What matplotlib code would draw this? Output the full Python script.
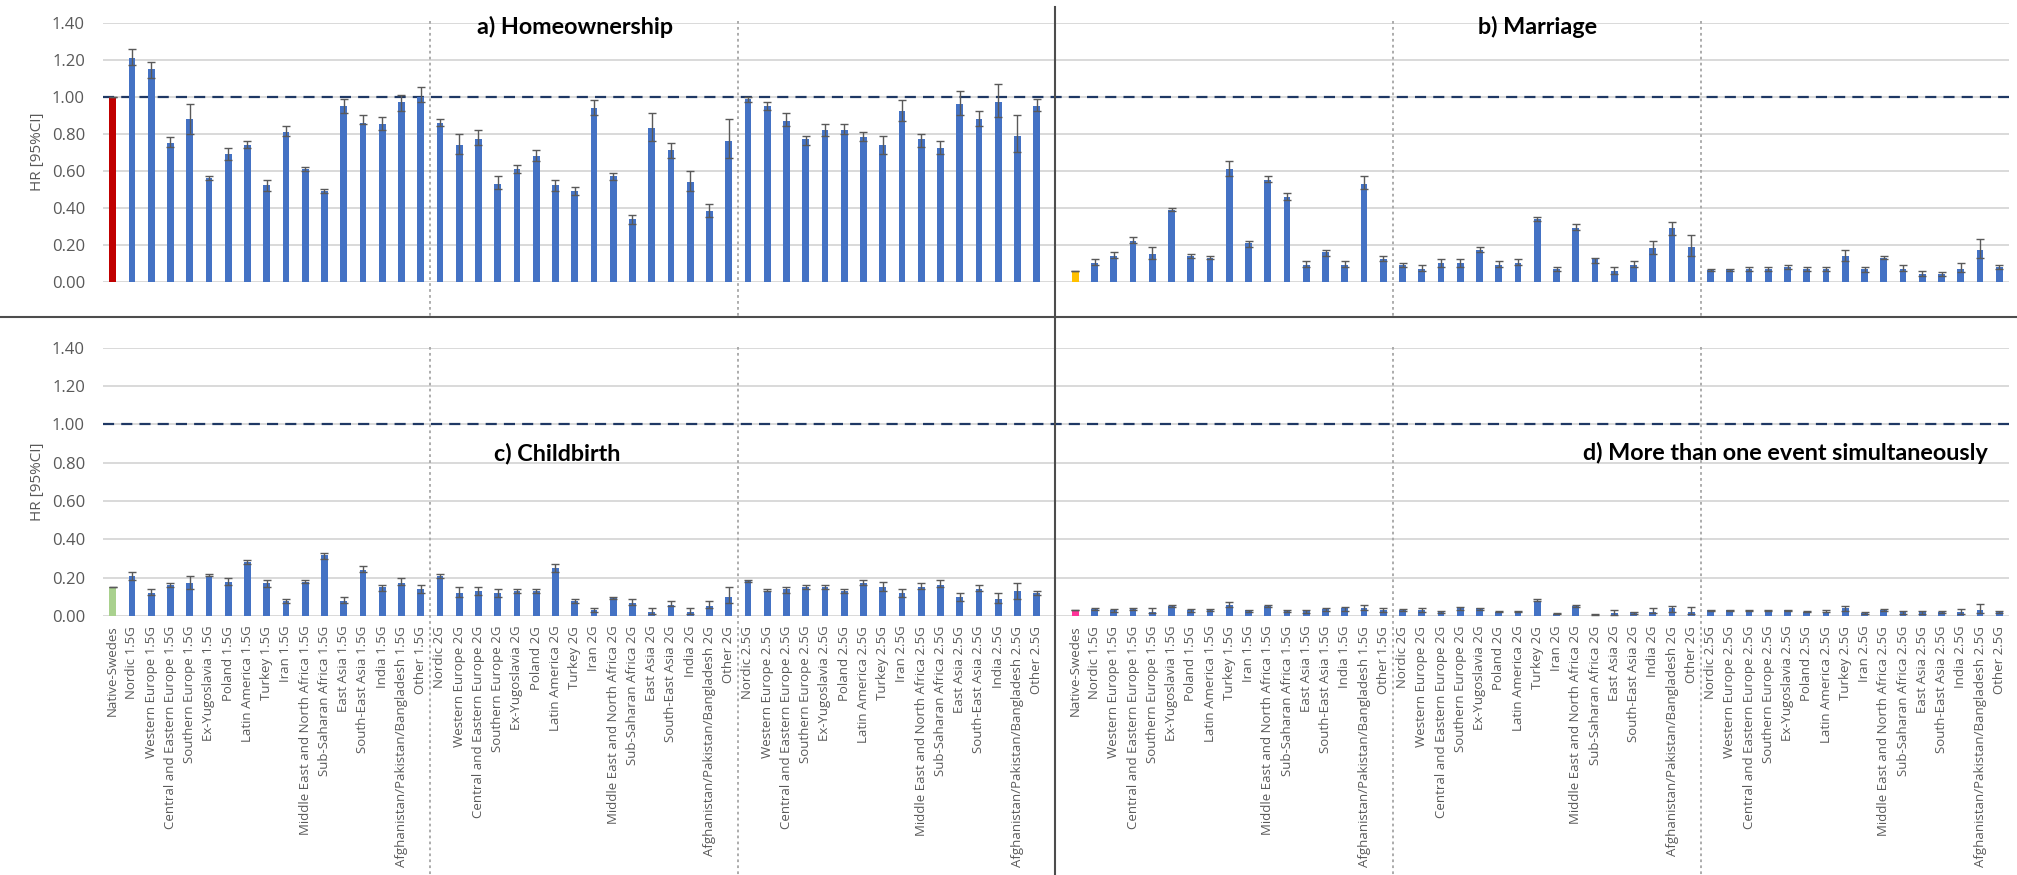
import numpy as np
import matplotlib.pyplot as plt
from matplotlib.lines import Line2D
from matplotlib.transforms import blended_transform_factory

regions = ["Nordic", "Western Europe", "Central and Eastern Europe", "Southern Europe",
           "Ex-Yugoslavia", "Poland", "Latin America", "Turkey", "Iran",
           "Middle East and North Africa", "Sub-Saharan Africa", "East Asia",
           "South-East Asia", "India", "Afghanistan/Pakistan/Bangladesh", "Other"]
generations = ["1.5G", "2G", "2.5G"]
labels = ["Native-Swedes"] + [f"{r} {g}" for g in generations for r in regions]

# hazard ratios with 95% CI, order: Native-Swedes, then 1.5G, 2G, 2.5G
home_hr = [1.00,
           1.21, 1.15, 0.75, 0.88, 0.56, 0.69, 0.74, 0.52, 0.81, 0.61, 0.49, 0.95, 0.86, 0.85, 0.97, 1.00,
           0.86, 0.74, 0.77, 0.53, 0.61, 0.68, 0.52, 0.49, 0.94, 0.57, 0.34, 0.83, 0.71, 0.54, 0.38, 0.76,
           0.99, 0.95, 0.87, 0.77, 0.82, 0.82, 0.78, 0.74, 0.92, 0.77, 0.72, 0.96, 0.88, 0.97, 0.79, 0.95]
home_lo = [1.00,
           1.17, 1.10, 0.73, 0.80, 0.55, 0.66, 0.72, 0.49, 0.79, 0.60, 0.48, 0.91, 0.85, 0.82, 0.92, 0.97,
           0.84, 0.69, 0.74, 0.50, 0.59, 0.65, 0.49, 0.47, 0.90, 0.55, 0.31, 0.76, 0.67, 0.49, 0.35, 0.67,
           0.97, 0.93, 0.84, 0.74, 0.79, 0.80, 0.76, 0.69, 0.87, 0.73, 0.69, 0.90, 0.84, 0.89, 0.70, 0.92]
home_hi = [1.00,
           1.26, 1.19, 0.78, 0.96, 0.57, 0.72, 0.76, 0.55, 0.84, 0.62, 0.50, 0.99, 0.90, 0.89, 1.01, 1.05,
           0.88, 0.80, 0.82, 0.57, 0.63, 0.71, 0.55, 0.51, 0.98, 0.59, 0.36, 0.91, 0.75, 0.60, 0.42, 0.88,
           1.00, 0.97, 0.91, 0.79, 0.85, 0.85, 0.81, 0.79, 0.98, 0.80, 0.76, 1.03, 0.92, 1.07, 0.90, 0.99]

marr_hr = [0.06,
           0.10, 0.14, 0.22, 0.15, 0.39, 0.14, 0.13, 0.61, 0.21, 0.55, 0.46, 0.09, 0.16, 0.09, 0.53, 0.12,
           0.09, 0.07, 0.10, 0.10, 0.17, 0.09, 0.10, 0.34, 0.07, 0.29, 0.12, 0.06, 0.09, 0.18, 0.29, 0.19,
           0.065, 0.07, 0.07, 0.07, 0.08, 0.07, 0.07, 0.14, 0.07, 0.13, 0.07, 0.04, 0.04, 0.07, 0.17, 0.08]
marr_lo = [0.06,
           0.09, 0.13, 0.21, 0.12, 0.38, 0.13, 0.12, 0.57, 0.19, 0.54, 0.44, 0.08, 0.14, 0.08, 0.50, 0.11,
           0.08, 0.06, 0.08, 0.08, 0.16, 0.08, 0.09, 0.33, 0.06, 0.28, 0.10, 0.04, 0.08, 0.15, 0.25, 0.14,
           0.06, 0.06, 0.06, 0.06, 0.07, 0.06, 0.06, 0.11, 0.05, 0.12, 0.06, 0.03, 0.03, 0.05, 0.13, 0.07]
marr_hi = [0.06,
           0.12, 0.16, 0.24, 0.19, 0.40, 0.15, 0.14, 0.65, 0.22, 0.57, 0.48, 0.11, 0.17, 0.11, 0.57, 0.14,
           0.10, 0.09, 0.12, 0.12, 0.19, 0.11, 0.12, 0.35, 0.08, 0.31, 0.13, 0.08, 0.11, 0.22, 0.32, 0.25,
           0.07, 0.07, 0.08, 0.08, 0.09, 0.08, 0.08, 0.17, 0.08, 0.14, 0.09, 0.06, 0.05, 0.10, 0.23, 0.09]

birth_hr = [0.15,
            0.21, 0.12, 0.16, 0.17, 0.21, 0.18, 0.28, 0.17, 0.08, 0.18, 0.32, 0.08, 0.24, 0.15, 0.17, 0.14,
            0.21, 0.12, 0.13, 0.12, 0.13, 0.13, 0.25, 0.08, 0.03, 0.10, 0.07, 0.02, 0.06, 0.02, 0.05, 0.10,
            0.19, 0.13, 0.14, 0.15, 0.15, 0.13, 0.17, 0.15, 0.12, 0.15, 0.16, 0.10, 0.14, 0.09, 0.13, 0.12]
birth_lo = [0.15,
            0.19, 0.11, 0.15, 0.14, 0.21, 0.16, 0.27, 0.15, 0.07, 0.17, 0.30, 0.07, 0.23, 0.13, 0.16, 0.12,
            0.20, 0.10, 0.11, 0.10, 0.12, 0.12, 0.23, 0.07, 0.02, 0.09, 0.06, 0.01, 0.05, 0.01, 0.04, 0.07,
            0.18, 0.13, 0.12, 0.14, 0.14, 0.12, 0.16, 0.13, 0.10, 0.14, 0.15, 0.08, 0.13, 0.07, 0.09, 0.11]
birth_hi = [0.15,
            0.23, 0.14, 0.17, 0.21, 0.22, 0.20, 0.29, 0.19, 0.09, 0.19, 0.33, 0.10, 0.26, 0.16, 0.20, 0.16,
            0.22, 0.15, 0.15, 0.14, 0.14, 0.14, 0.27, 0.09, 0.04, 0.10, 0.09, 0.04, 0.08, 0.04, 0.08, 0.15,
            0.19, 0.14, 0.15, 0.16, 0.16, 0.14, 0.19, 0.18, 0.14, 0.17, 0.19, 0.12, 0.16, 0.12, 0.17, 0.13]

multi_hr = [0.03,
            0.035, 0.03, 0.035, 0.02, 0.05, 0.03, 0.03, 0.06, 0.03, 0.05, 0.03, 0.03, 0.035, 0.04, 0.04, 0.03,
            0.03, 0.03, 0.02, 0.04, 0.04, 0.02, 0.02, 0.08, 0.01, 0.05, 0.01, 0.015, 0.02, 0.02, 0.04, 0.02,
            0.03, 0.03, 0.03, 0.03, 0.03, 0.02, 0.02, 0.04, 0.015, 0.03, 0.02, 0.02, 0.02, 0.02, 0.03, 0.02]
multi_lo = [0.03,
            0.03, 0.023, 0.031, 0.014, 0.047, 0.021, 0.028, 0.047, 0.023, 0.049, 0.021, 0.017, 0.026, 0.028, 0.031, 0.023,
            0.026, 0.019, 0.017, 0.03, 0.033, 0.019, 0.019, 0.077, 0.008, 0.047, 0.007, 0.007, 0.012, 0.014, 0.023, 0.012,
            0.024, 0.024, 0.024, 0.024, 0.024, 0.019, 0.02, 0.024, 0.012, 0.026, 0.012, 0.012, 0.017, 0.012, 0.016, 0.017]
multi_hi = [0.03,
            0.043, 0.035, 0.04, 0.04, 0.056, 0.035, 0.037, 0.075, 0.031, 0.059, 0.03, 0.031, 0.04, 0.045, 0.057, 0.04,
            0.035, 0.043, 0.028, 0.049, 0.042, 0.026, 0.026, 0.09, 0.014, 0.059, 0.012, 0.03, 0.021, 0.04, 0.054, 0.047,
            0.033, 0.033, 0.033, 0.033, 0.033, 0.028, 0.03, 0.05, 0.021, 0.035, 0.026, 0.026, 0.028, 0.037, 0.061, 0.028]

BLUE = "#4472C4"
GRID = "#D9D9D9"
TXT = "#595959"
TICK_FONT = ["Open Sans", "DejaVu Sans"]
TITLE_FONT = ["Lato", "DejaVu Sans"]

W, H = 2017, 875
fig = plt.figure(figsize=(W / 100, H / 100), dpi=100)

n = len(labels)
x_left = np.arange(n)
x_right = np.arange(n) + n + 1   # one empty slot between the two panels


def px(x0, y0, x1, y1):
    """pixel box (top-left origin) -> figure rect"""
    return [x0 / W, 1 - y1 / H, (x1 - x0) / W, (y1 - y0) / H]


def panel(ax, x, hr, lo, hi, native_color):
    hr = np.array(hr)
    err = np.vstack([np.clip(hr - np.array(lo), 0, None), np.clip(np.array(hi) - hr, 0, None)])
    colors = [native_color] + [BLUE] * (len(hr) - 1)
    ax.bar(x, hr, width=0.35, color=colors, zorder=3)
    ax.errorbar(x, hr, yerr=err, fmt="none", ecolor="#595959", elinewidth=1.0,
                capsize=2.6, capthick=1.0, zorder=4)


def style_axis(ax, show_labels):
    ax.set_xlim(-0.5, 2 * n + 0.5)
    ax.set_ylim(0, 1.4)
    ax.set_yticks(np.arange(0, 1.41, 0.2))
    ax.set_yticklabels([f"{v:.2f}" for v in np.arange(0, 1.41, 0.2)],
                       fontsize=12, color=TXT, family=TICK_FONT)
    ax.tick_params(axis="y", length=0, pad=13)
    ax.grid(axis="y", color=GRID, lw=1.4, zorder=0)
    ax.set_axisbelow(True)
    for s in ax.spines.values():
        s.set_visible(False)
    ax.axhline(1.0, color="#1F3864", lw=1.6, ls=(0, (5, 3.2)), zorder=2)
    if show_labels:
        ax.set_xticks(np.concatenate([x_left, x_right]))
        ax.set_xticklabels(labels + labels, rotation=90, fontsize=9.5,
                           color=TXT, family=TICK_FONT, va="top", ha="center")
        ax.tick_params(axis="x", length=0, pad=7)
    else:
        ax.set_xticks([])


ax_top = fig.add_axes(px(103, 22.7, 2009, 281.7))
ax_bot = fig.add_axes(px(103, 347.7, 2009, 616))

panel(ax_top, x_left, home_hr, home_lo, home_hi, "#C00000")
panel(ax_top, x_right, marr_hr, marr_lo, marr_hi, "#FFC000")
panel(ax_bot, x_left, birth_hr, birth_lo, birth_hi, "#A9D18E")
panel(ax_bot, x_right, multi_hr, multi_lo, multi_hi, "#FF3399")
style_axis(ax_top, False)
style_axis(ax_bot, True)

title_kw = dict(fontsize=16.8, fontweight="bold", family=TITLE_FONT, color="black",
                ha="center", va="center", zorder=5)
ax_top.text(24, 1.377, "a) Homeownership", **title_kw)
ax_top.text(n + 1 + 24, 1.377, "b) Marriage", **title_kw)
ax_bot.text(23.1, 0.85, "c) Childbirth", **title_kw)
ax_bot.text(86.9, 0.85, "d) More than one event simultaneously", **title_kw)

for ax, yc in [(ax_top, 152), (ax_bot, 482)]:
    fig.text(37 / W, 1 - yc / H, "HR [95%CI]", rotation=90, ha="center", va="center",
             fontsize=11, color=TXT, family=TICK_FONT)

# generation separators (dotted) running through each row
for ax, y0, y1 in [(ax_top, 21, 317), (ax_bot, 347, 875)]:
    tr = blended_transform_factory(ax.transData, fig.transFigure)
    for xs in [16.5, 32.5, n + 1 + 16.5, n + 1 + 32.5]:
        ax.add_line(Line2D([xs, xs], [1 - y0 / H, 1 - y1 / H], transform=tr,
                           color="#A6A6A6", lw=1.3, ls=(0, (1.5, 1.8)), clip_on=False, zorder=1))

# panel borders
fig.add_artist(Line2D([0, 1], [1 - 317.3 / H] * 2, color="#4D4D4D", lw=1.5))
fig.add_artist(Line2D([1055 / W] * 2, [1 - 7 / H, 0], color="#4D4D4D", lw=1.5))

fig.savefig("out.png", dpi=100, facecolor="white")
